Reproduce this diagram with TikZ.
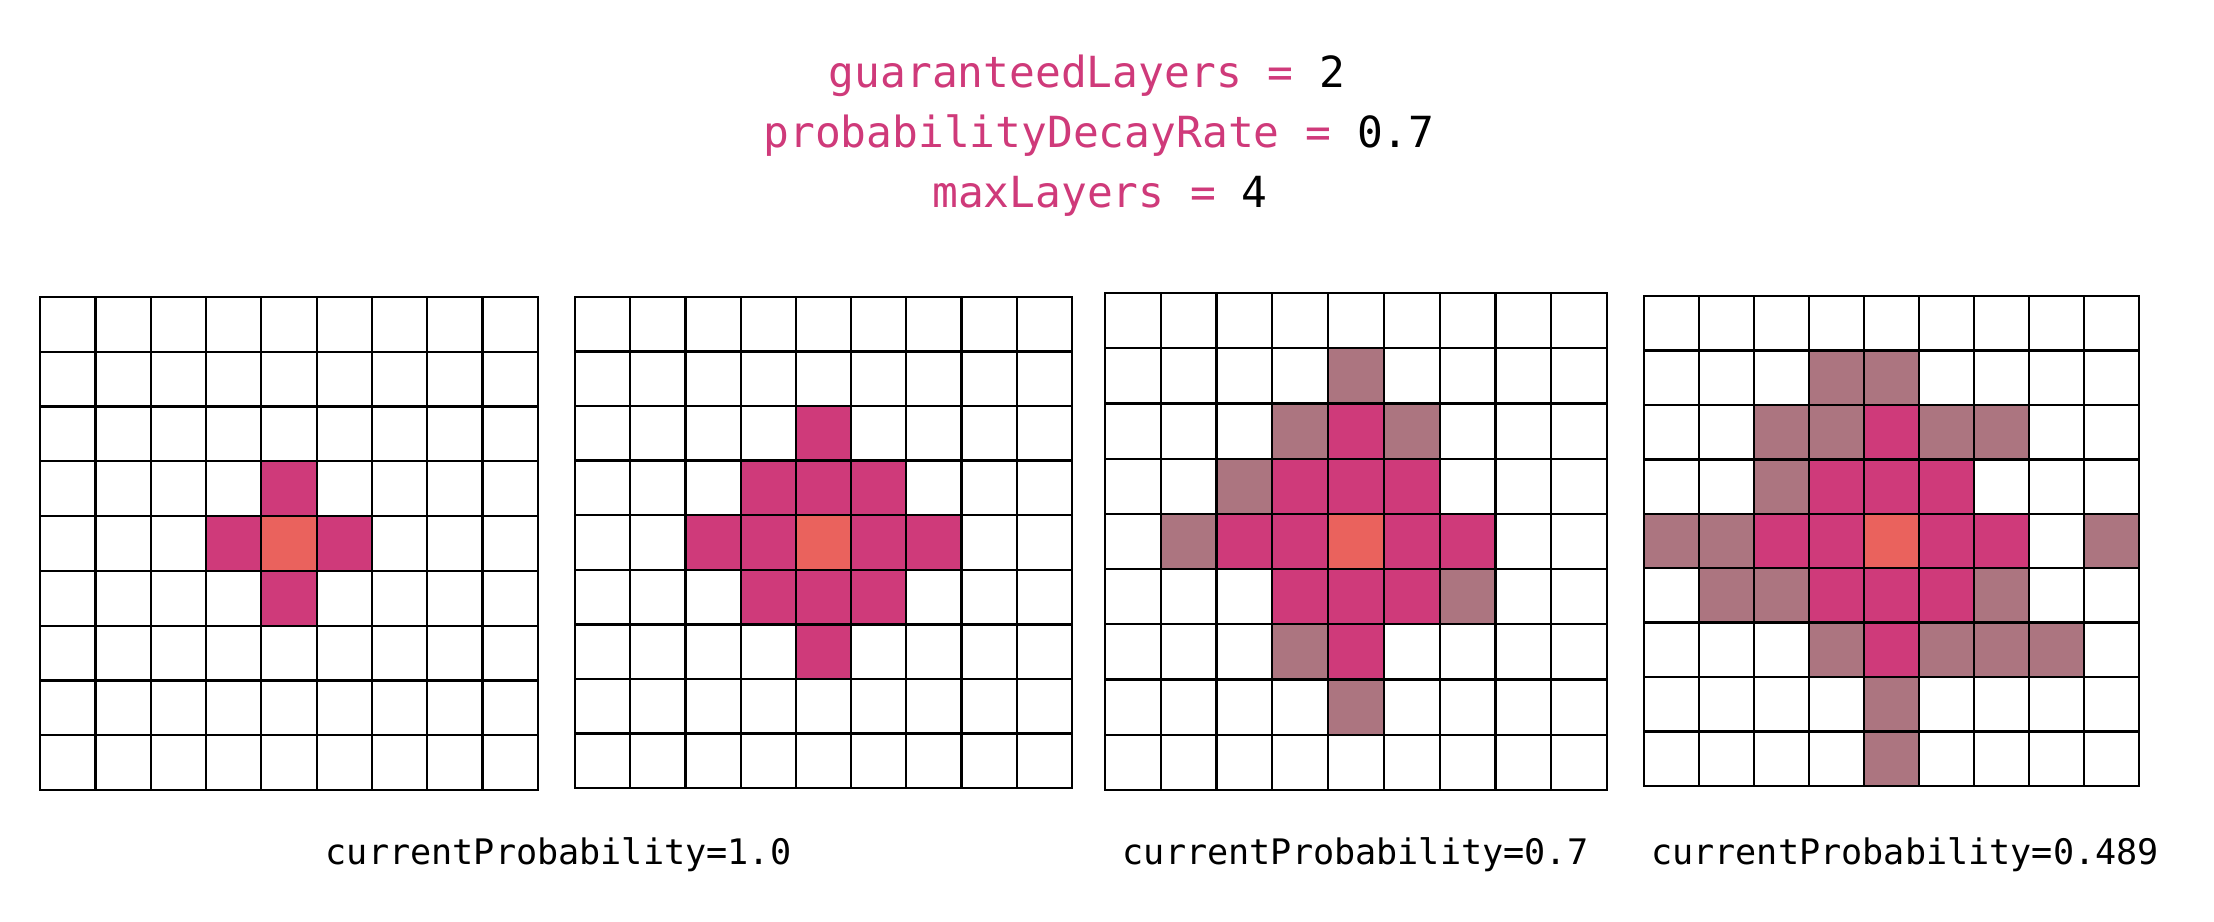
\documentclass[tikz,border=0pt]{standalone}
\usepackage{fontspec}
\setmonofont{DejaVu Sans Mono}
\usepackage{tikz}
\usetikzlibrary{matrix}

\definecolor{layerpink}{HTML}{CF3A7A}
\definecolor{seedred}{HTML}{EA625D}
\definecolor{fademauve}{HTML}{AC7580}

\tikzset{
  cell/.style={draw=black, line width=0.65pt, fill=white, inner sep=0pt, outer sep=0pt},
  hit/.style={fill=layerpink},
  origin/.style={fill=seedred},
  chance/.style={fill=fademauve},
  board/.style={matrix of nodes, nodes in empty cells,
    row sep=-0.65pt, column sep=-0.65pt},
  param/.style={anchor=base, inner sep=0pt, font=\ttfamily\fontsize{12.2}{14}\selectfont},
  caption/.style={anchor=base, inner sep=0pt, font=\ttfamily\fontsize{10}{12}\selectfont}
}

\begin{document}
\begin{tikzpicture}
\useasboundingbox (0,0) rectangle (22.14,-9.22);

\node (p1) [param] at (10.87,-0.88) {\textcolor{layerpink}{guaranteedLayers =} 2};
\node (p2) [param] at (10.99,-1.48) {\textcolor{layerpink}{probabilityDecayRate =} 0.7};
\node (p3) [param] at (11.00,-2.08) {\textcolor{layerpink}{maxLayers =} 4};

\matrix (m1) at (2.89,-5.435) [board,
nodes={cell, minimum width=5.53mm, minimum height=5.48mm}] {
 & & & & & & & & \\
 & & & & & & & & \\
 & & & & & & & & \\
 & & & & |[hit]| & & & & \\
 & & & |[hit]| & |[origin]| & |[hit]| & & & \\
 & & & & |[hit]| & & & & \\
 & & & & & & & & \\
 & & & & & & & & \\
 & & & & & & & & \\
};

\matrix (m2) at (8.235,-5.425) [board,
nodes={cell, minimum width=5.52mm, minimum height=5.46mm}] {
 & & & & & & & & \\
 & & & & & & & & \\
 & & & & |[hit]| & & & & \\
 & & & |[hit]| & |[hit]| & |[hit]| & & & \\
 & & |[hit]| & |[hit]| & |[origin]| & |[hit]| & |[hit]| & & \\
 & & & |[hit]| & |[hit]| & |[hit]| & & & \\
 & & & & |[hit]| & & & & \\
 & & & & & & & & \\
 & & & & & & & & \\
};

\matrix (m3) at (13.56,-5.415) [board,
nodes={cell, minimum width=5.58mm, minimum height=5.52mm}] {
 & & & & & & & & \\
 & & & & |[chance]| & & & & \\
 & & & |[chance]| & |[hit]| & |[chance]| & & & \\
 & & |[chance]| & |[hit]| & |[hit]| & |[hit]| & & & \\
 & |[chance]| & |[hit]| & |[hit]| & |[origin]| & |[hit]| & |[hit]| & & \\
 & & & |[hit]| & |[hit]| & |[hit]| & |[chance]| & & \\
 & & & |[chance]| & |[hit]| & & & & \\
 & & & & |[chance]| & & & & \\
 & & & & & & & & \\
};

\matrix (m4) at (18.915,-5.41) [board,
nodes={cell, minimum width=5.50mm, minimum height=5.44mm}] {
 & & & & & & & & \\
 & & & |[chance]| & |[chance]| & & & & \\
 & & |[chance]| & |[chance]| & |[hit]| & |[chance]| & |[chance]| & & \\
 & & |[chance]| & |[hit]| & |[hit]| & |[hit]| & & & \\
|[chance]| & |[chance]| & |[hit]| & |[hit]| & |[origin]| & |[hit]| & |[hit]| & & |[chance]| \\
 & |[chance]| & |[chance]| & |[hit]| & |[hit]| & |[hit]| & |[chance]| & & \\
 & & & |[chance]| & |[hit]| & |[chance]| & |[chance]| & |[chance]| & \\
 & & & & |[chance]| & & & & \\
 & & & & |[chance]| & & & & \\
};

\node (c1) [caption] at (5.585,-8.65) {currentProbability=1.0};
\node (c2) [caption] at (13.555,-8.65) {currentProbability=0.7};
\node (c3) [caption] at (19.05,-8.65) {currentProbability=0.489};
\end{tikzpicture}
\end{document}
